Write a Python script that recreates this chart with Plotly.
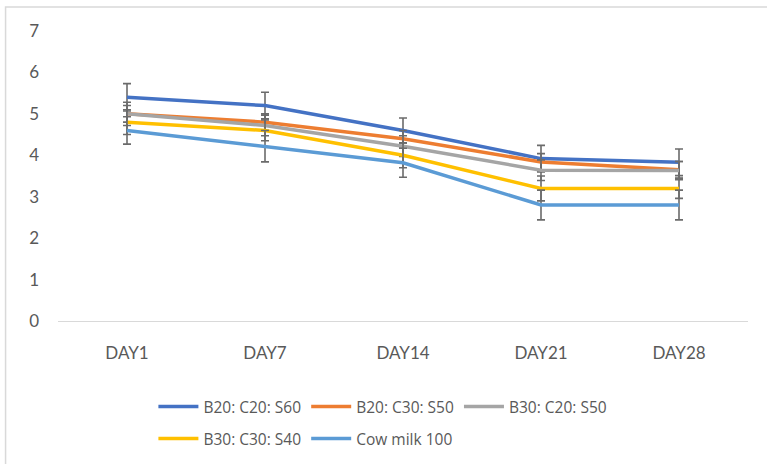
import plotly.graph_objects as go

days = ["DAY1", "DAY7", "DAY14", "DAY21", "DAY28"]
names = ["B20: C20: S60", "B20: C30: S50", "B30: C20: S50", "B30: C30: S40", "Cow milk 100"]
s1 = [5.4, 5.2, 4.6, 3.92, 3.83]
s2 = [5.0, 4.8, 4.4, 3.84, 3.65]
s3 = [5.0, 4.72, 4.22, 3.64, 3.63]
s4 = [4.8, 4.6, 4.0, 3.2, 3.2]
s5 = [4.6, 4.22, 3.82, 2.8, 2.8]
e1 = [0.33, 0.32, 0.30, 0.32, 0.32]
e2 = [0.20, 0.20, 0.20, 0.20, 0.20]
e3 = [0.28, 0.25, 0.25, 0.25, 0.22]
e4 = [0.30, 0.25, 0.30, 0.30, 0.24]
e5 = [0.33, 0.38, 0.35, 0.36, 0.36]

series = [s1, s2, s3, s4, s5]
errors = [e1, e2, e3, e4, e5]
colors = ["#4472C4", "#ED7D31", "#A5A5A5", "#FFC000", "#5B9BD5"]
legends = ["legend", "legend", "legend", "legend2", "legend2"]

fig = go.Figure()
for n, s, e, c, lg in zip(names, series, errors, colors, legends):
    fig.add_trace(go.Scatter(
        x=days, y=s, name=n, mode="lines",
        line=dict(color=c, width=3.5),
        error_y=dict(type="data", array=e, visible=True, color="#6b6b6b", thickness=1.6, width=4),
        legend=lg,
    ))

tickfont = dict(family="Lato, Carlito, sans-serif", size=17, color="#595959")
legfont = dict(family="Open Sans, sans-serif", size=15.5, color="#595959")
fig.update_layout(
    width=767, height=464,
    margin=dict(l=58, r=19, t=31, b=143, autoexpand=False),
    paper_bgcolor="white", plot_bgcolor="white",
    font=tickfont,
    showlegend=True,
    legend=dict(orientation="h", xref="container", yref="container", x=0.2, xanchor="left",
                y=0.123, yanchor="middle",
                font=legfont, bgcolor="rgba(0,0,0,0)", itemwidth=40, traceorder="normal"),
    legend2=dict(orientation="h", xref="container", yref="container", x=0.2, xanchor="left",
                 y=0.054, yanchor="middle",
                 font=legfont, bgcolor="rgba(0,0,0,0)", itemwidth=40, traceorder="normal"),
    xaxis=dict(type="category", range=[-0.5, 4.5], showgrid=False, showline=True,
               linecolor="#d9d9d9", linewidth=1, zeroline=False, ticks="",
               ticklabelstandoff=17, tickfont=tickfont),
    yaxis=dict(range=[0, 7], dtick=1, showgrid=False, showline=False, zeroline=False,
               ticks="", ticklabelstandoff=18, tickfont=tickfont),
    shapes=[dict(type="rect", xref="paper", yref="paper",
                 x0=-0.076, x1=1.2, y0=-0.6, y1=1.083,
                 line=dict(color="#d9d9d9", width=1.5), fillcolor="rgba(0,0,0,0)", layer="below")],
)
fig.write_html("out.html", post_script="document.body.style.margin='0';",
               config={"displayModeBar": False})
